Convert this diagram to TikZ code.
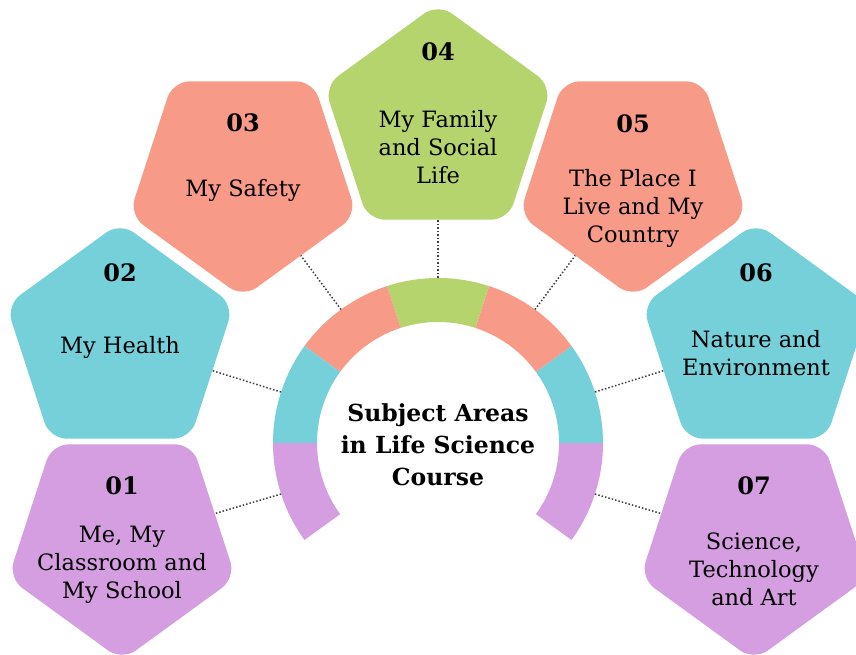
\documentclass[tikz,border=0pt]{standalone}
\usepackage{fontspec}
\setmainfont{DejaVu Serif}
\usetikzlibrary{shapes.geometric,calc,positioning}
\definecolor{areaPurple}{HTML}{D49EE0}
\definecolor{areaTeal}{HTML}{76D0D9}
\definecolor{areaSalmon}{HTML}{F89A88}
\definecolor{areaGreen}{HTML}{B5D46E}
\tikzset{
  area/.style={
    regular polygon,
    regular polygon sides=5,
    minimum size=239pt,
    inner sep=0pt,
    outer sep=0pt,
    rounded corners=17pt
  },
  area num/.style={font=\fontsize{24}{28}\selectfont\bfseries},
  area text/.style={font=\fontsize{22.5}{28}\selectfont, align=center},
  hub text/.style={font=\fontsize{23.5}{32}\selectfont\bfseries, align=center},
  link/.style={dotted, line width=1.5pt, black!75}
}

\begin{document}
\begin{tikzpicture}[x=1pt,y=1pt]
\useasboundingbox (0,0) rectangle (856,654);
\clip (0,0) rectangle (856,654);
\coordinate (O) at (438,211);
\foreach \a/\col [evaluate=\a as \b using \a+36] in {%
  -36/areaPurple,
  0/areaTeal,
  36/areaSalmon,
  72/areaGreen,
  108/areaSalmon,
  144/areaTeal,
  180/areaPurple%
} {
  \fill[\col] ($(O)+(\a:165pt)$) arc[start angle=\a, end angle=\b, radius=165pt]
    -- ($(O)+(\b:121pt)$) arc[start angle=\b, end angle=\a, radius=121pt] -- cycle;
}
\foreach \n/\x/\y/\rot/\col in {%
  1/122/113/180/areaPurple,
  2/120/312/0/areaTeal,
  3/243/476/180/areaSalmon,
  4/438/531/0/areaGreen,
  5/633/476/180/areaSalmon,
  6/756/312/0/areaTeal,
  7/754/113/180/areaPurple%
} {
  \node[area, fill=\col, shape border rotate=\rot] (p\n) at (\x,\y) {};
}
\foreach \n/\a in {1/198,2/162,3/126,4/90,5/54,6/18,7/-18} {
  \coordinate (r\n) at ($(O)+(\a:165pt)$);
  \draw[link] (r\n) -- (p\n);
}
\foreach \n/\dn/\dt/\txt in {%
  1/55/-24/{Me, My\\Classroom and\\My School},
  2/69/-5/{My Health},
  3/55/-12/{My Safety},
  4/71/-24/{My Family\\and Social\\Life},
  5/54/-30/{The Place I\\Live and My\\Country},
  6/69/-11/{Nature and\\Environment},
  7/55/-28/{Science,\\Technology\\and Art}%
} {
  \node[area num] (n\n) at ($(p\n)+(0,\dn)$) {0\n};
  \node[area text] (t\n) at ($(p\n)+(0,\dt)$) {\txt};
}
\node[hub text] (hub) at ($(O)+(0,-2)$) {Subject Areas\\in Life Science\\Course};
\end{tikzpicture}
\end{document}
